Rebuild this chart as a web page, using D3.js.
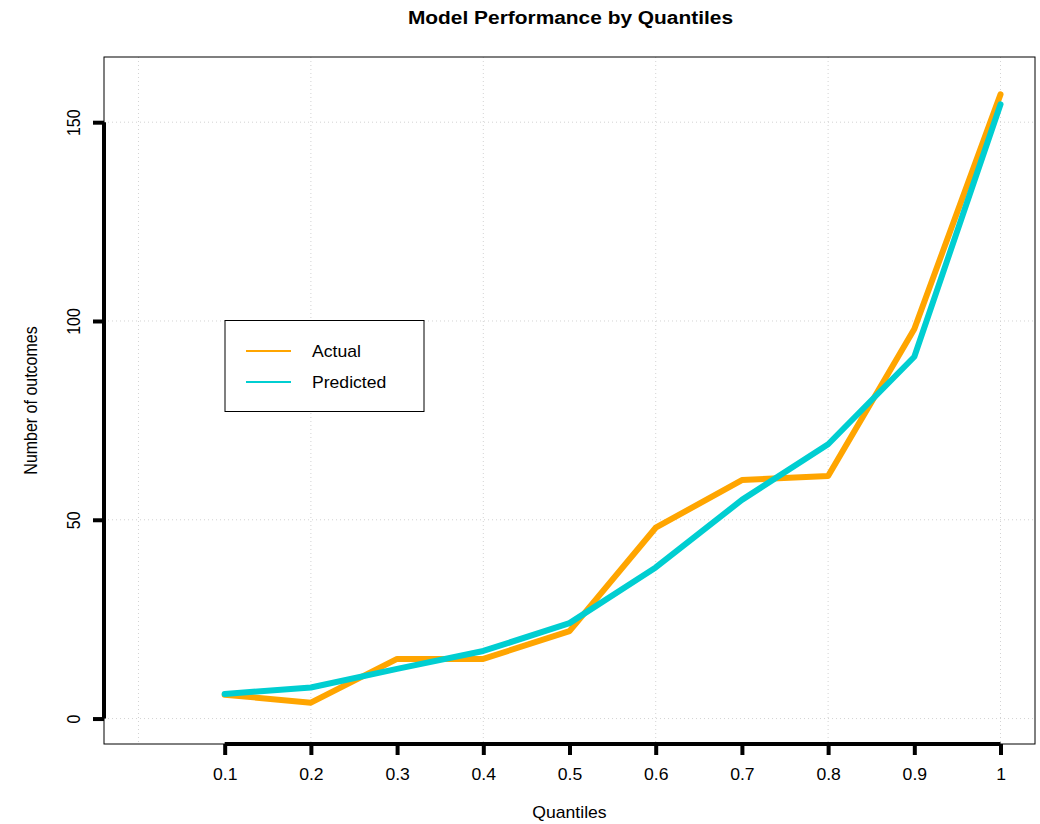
<!DOCTYPE html>
<html>
<head>
<meta charset="utf-8">
<script src="https://cdn.jsdelivr.net/npm/d3@7"></script>
<style>
body { margin: 0; background: #fff; }
text { font-family: "Liberation Sans", Arial, sans-serif; fill: #000; }
</style>
</head>
<body>
<script>
var width = 1040, height = 824;

// data
var quantiles = [0.1, 0.2, 0.3, 0.4, 0.5, 0.6, 0.7, 0.8, 0.9, 1.0];
var actual    = [6, 4, 15, 15, 22, 48, 60, 61, 98, 157];
var predicted = [6.2, 7.8, 12.5, 17, 24, 38, 55, 69, 91, 154.5];
var xTicks = [0.1, 0.2, 0.3, 0.4, 0.5, 0.6, 0.7, 0.8, 0.9, 1];
var yTicks = [0, 50, 100, 150];
var xGrid = [0, 0.2, 0.4, 0.6, 0.8, 1];
var seriesNames = ["Actual", "Predicted"];
var seriesColors = ["#FFA500", "#00CED1"];

var plotLeft = 104, plotRight = 1035, plotTop = 57, plotBottom = 744;
var fontSize = 16, stretch = "scale(1.1,1)";

var scaleX = d3.scaleLinear().domain([-0.04, 1.04]).range([plotLeft, plotRight]);
var scaleY = d3.scaleLinear().domain([-6.4, 166.4]).range([plotBottom, plotTop]);

var svg = d3.select("body").append("svg").attr("width", width).attr("height", height);

// grid
svg.append("g").selectAll("line").data(xGrid).enter().append("line")
  .attr("x1", function(d){ return scaleX(d); }).attr("x2", function(d){ return scaleX(d); })
  .attr("y1", plotTop).attr("y2", plotBottom)
  .attr("stroke", "#d3d3d3").attr("stroke-width", 1).attr("stroke-dasharray", "1,3");
svg.append("g").selectAll("line").data(yTicks).enter().append("line")
  .attr("y1", function(d){ return scaleY(d); }).attr("y2", function(d){ return scaleY(d); })
  .attr("x1", plotLeft).attr("x2", plotRight)
  .attr("stroke", "#d3d3d3").attr("stroke-width", 1).attr("stroke-dasharray", "1,3");

// box
svg.append("rect").attr("x", plotLeft).attr("y", plotTop)
  .attr("width", plotRight - plotLeft).attr("height", plotBottom - plotTop)
  .attr("fill", "none").attr("stroke", "#000").attr("stroke-width", 1);

// lines
var line = d3.line().x(function(d){ return scaleX(d[0]); }).y(function(d){ return scaleY(d[1]); });
[actual, predicted].forEach(function(vals, i){
  svg.append("path")
    .attr("d", line(quantiles.map(function(q, j){ return [q, vals[j]]; })))
    .attr("fill", "none").attr("stroke", seriesColors[i]).attr("stroke-width", 6)
    .attr("stroke-linejoin", "round").attr("stroke-linecap", "round");
});

// x axis
var xAxis = d3.axisBottom(scaleX).tickValues(xTicks).tickSize(11).tickPadding(14)
  .tickFormat(function(d){ return d === 1 ? "1" : d3.format(".1f")(d); });
var gx = svg.append("g").attr("transform", "translate(0," + plotBottom + ")").call(xAxis);
gx.attr("font-size", fontSize).attr("font-family", "Liberation Sans, Arial, sans-serif");
gx.select(".domain").attr("stroke-width", 4).attr("d", "M" + scaleX(0.1) + ",0H" + scaleX(1));
gx.selectAll(".tick line").attr("stroke-width", 4);
gx.selectAll(".tick text").attr("transform", stretch);

// y axis
var yAxis = d3.axisLeft(scaleY).tickValues(yTicks).tickSize(11).tickPadding(0);
var gy = svg.append("g").attr("transform", "translate(" + plotLeft + ",0)").call(yAxis);
gy.attr("font-size", fontSize).attr("font-family", "Liberation Sans, Arial, sans-serif");
gy.select(".domain").attr("stroke-width", 4).attr("d", "M0," + scaleY(0) + "V" + scaleY(150));
gy.selectAll(".tick line").attr("stroke-width", 4);
gy.selectAll(".tick text")
  .attr("x", 0).attr("dy", 0)
  .attr("transform", "translate(-24,0) " + stretch + " rotate(-90)")
  .attr("text-anchor", "middle");

// title and labels
svg.append("text").attr("transform", "translate(" + ((plotLeft + plotRight) / 2 + 1) + ",24) " + stretch)
  .attr("text-anchor", "middle").attr("font-size", 19).attr("font-weight", "bold")
  .text("Model Performance by Quantiles");
svg.append("text").attr("transform", "translate(" + ((plotLeft + plotRight) / 2) + ",818) " + stretch)
  .attr("text-anchor", "middle").attr("font-size", fontSize).text("Quantiles");
svg.append("text").attr("transform", "translate(37," + ((plotTop + plotBottom) / 2) + ") " + stretch + " rotate(-90)")
  .attr("text-anchor", "middle").attr("font-size", fontSize).text("Number of outcomes");

// legend
var legend = svg.append("g");
legend.append("rect").attr("x", 225).attr("y", 320.5).attr("width", 199).attr("height", 91)
  .attr("fill", "#fff").attr("stroke", "#000").attr("stroke-width", 1);
seriesNames.forEach(function(name, i){
  var y = 351 + i * 31;
  legend.append("line").attr("x1", 246).attr("x2", 291).attr("y1", y).attr("y2", y)
    .attr("stroke", seriesColors[i]).attr("stroke-width", 2);
  legend.append("text").attr("transform", "translate(312," + (y + 6) + ") " + stretch)
    .attr("font-size", fontSize).text(name);
});
</script>
</body>
</html>
